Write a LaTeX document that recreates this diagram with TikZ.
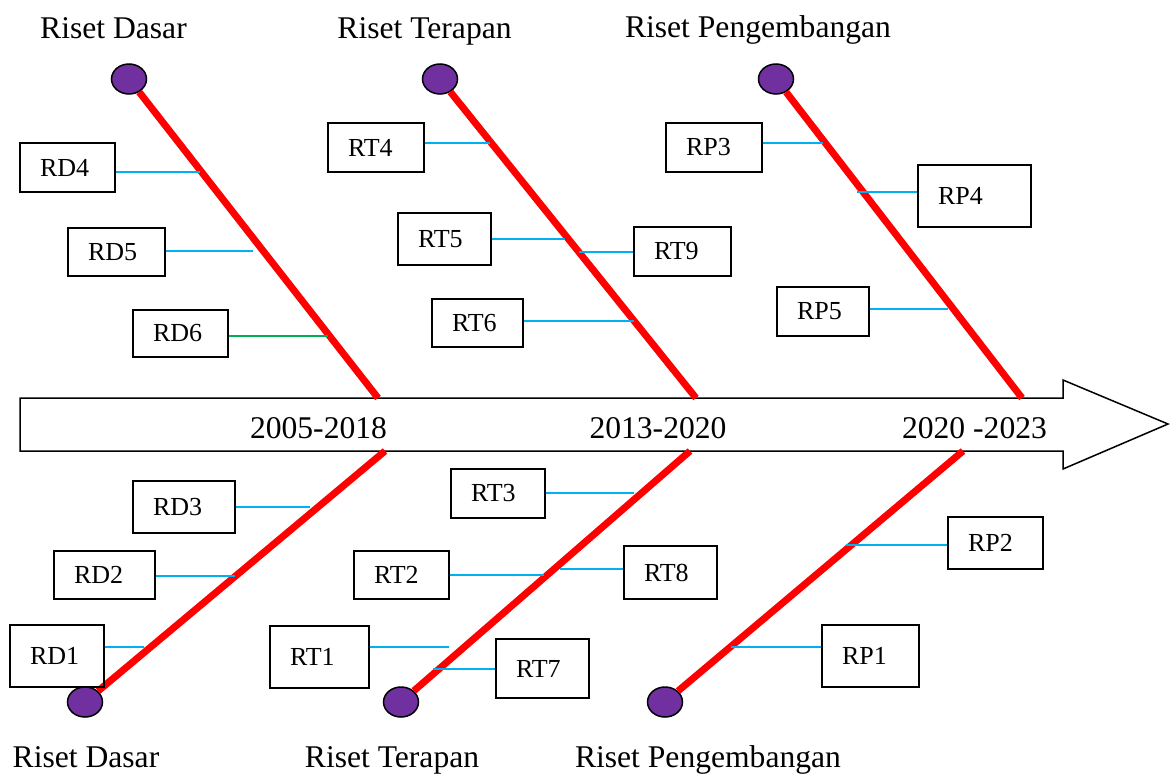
\documentclass[tikz,border=0pt]{standalone}
\usepackage{fontspec}
\setmainfont{Liberation Serif}
\usetikzlibrary{shapes.geometric}
\definecolor{BoneRed}{RGB}{255,0,0}
\definecolor{DotPurple}{RGB}{112,48,160}
\definecolor{TwigBlue}{RGB}{0,176,240}
\definecolor{TwigGreen}{RGB}{0,176,80}

\begin{document}
\begin{tikzpicture}[x=1pt, y=-1pt,
          box/.style 2 args={rectangle, draw, line width=1.5pt, inner ysep=0pt, inner xsep=20pt, text width=#1pt-40pt, align=left, minimum height=#2pt, font=\fontsize{26}{31}\selectfont},
          head/.style={font=\fontsize{31.6}{38}\selectfont, anchor=base, inner sep=0pt},
          dot/.style={ellipse, draw, line width=1.5pt, fill=DotPurple, minimum width=35pt, minimum height=30pt, inner sep=0pt},
          bone/.style={BoneRed, line width=7pt},
          twig/.style={TwigBlue, line width=2pt}
        ]
          \useasboundingbox (0,0) rectangle (1170,774);

          % time arrow
          \draw[line width=1.5pt, fill=white] (20,398) -- (1063,398) -- (1063,380) -- (1168,424) -- (1063,469) -- (1063,451) -- (20,451) -- cycle;
          \coordinate (jRDt) at (378,398);
          \coordinate (jRTt) at (696,398);
          \coordinate (jRPt) at (1022,398);
          \coordinate (jRDb) at (385,451);
          \coordinate (jRTb) at (690,451);
          \coordinate (jRPb) at (963,451);

          \node[head] (yRD) at (318.5,438) {2005-2018};
          \node[head] (yRT) at (658,438) {2013-2020};
          \node[head] (yRP) at (974.5,438) {2020 -2023};

          % headings
          \node[head] (hRDt) at (113.5,38) {Riset Dasar};
          \node[head] (hRTt) at (424.5,38) {Riset Terapan};
          \node[head] (hRPt) at (758,37) {Riset Pengembangan};
          \node[head] (hRDb) at (86,767) {Riset Dasar};
          \node[head] (hRTb) at (392,767) {Riset Terapan};
          \node[head] (hRPb) at (708,767) {Riset Pengembangan};

          % bones
          \node[dot] (dRDt) at (129,79) {};
          \node[dot] (dRTt) at (440,79) {};
          \node[dot] (dRPt) at (776,79) {};
          \node[dot] (dRDb) at (85,702) {};
          \node[dot] (dRTb) at (401,702) {};
          \node[dot] (dRPb) at (665,702) {};
          \draw[bone] (dRDt) -- (jRDt);
          \draw[bone] (dRTt) -- (jRTt);
          \draw[bone] (dRPt) -- (jRPt);
          \draw[bone] (dRDb) -- (jRDb);
          \draw[bone] (dRTb) -- (jRTb);
          \draw[bone] (dRPb) -- (jRPb);

          % upper boxes
          \node[box={95}{49}] (RD4) at (67.5,167.5) {RD4};
          \node[box={97}{48}] (RD5) at (116.5,252) {RD5};
          \node[box={95}{47}] (RD6) at (180.5,333.5) {RD6};
          \node[box={96}{49}] (RT4) at (376,147.5) {RT4};
          \node[box={93}{52}] (RT5) at (444.5,239) {RT5};
          \node[box={97}{49}] (RT9) at (682.5,251.5) {RT9};
          \node[box={91}{48}] (RT6) at (477.5,323) {RT6};
          \node[box={96}{49}] (RP3) at (714,147.5) {RP3};
          \node[box={113}{62}] (RP4) at (974.5,196) {RP4};
          \node[box={92}{49}] (RP5) at (823,311.5) {RP5};

          % lower boxes
          \node[box={102}{52}] (RD3) at (184,507) {RD3};
          \node[box={101}{48}] (RD2) at (104.5,575) {RD2};
          \node[box={94}{62}] (RD1) at (57,656) {RD1};
          \node[box={94}{49}] (RT3) at (498,493.5) {RT3};
          \node[box={95}{48}] (RT2) at (401.5,575) {RT2};
          \node[box={93}{53}] (RT8) at (670.5,572.5) {RT8};
          \node[box={99}{62}] (RT1) at (319.5,657) {RT1};
          \node[box={93}{59}] (RT7) at (542.5,668.5) {RT7};
          \node[box={95}{52}] (RP2) at (995.5,543) {RP2};
          \node[box={97}{62}] (RP1) at (870.5,656) {RP1};

          % twigs
          \foreach \b/\x/\y in {RD4/200/172, RD5/253/251, RT4/490/143, RT5/565/239, RT6/634/321, RP3/823/143, RP5/948/309,
                                RD3/310/507, RD2/235/576, RD1/144/647, RT3/634/493, RT2/544/575, RT1/449/647}
            {\coordinate (e\b) at (\x,\y);
             \draw[twig] (\b.east |- e\b) -- (e\b);}
          \foreach \b/\x/\y in {RT9/579/252, RP4/857/192, RT8/560/569, RT7/433/669, RP2/846/545, RP1/731/647}
            {\coordinate (e\b) at (\x,\y);
             \draw[twig] (\b.west |- e\b) -- (e\b);}
          \coordinate (eRD6) at (328,336);
          \draw[twig, TwigGreen] (RD6.east |- eRD6) -- (eRD6);
        \end{tikzpicture}
\end{document}
